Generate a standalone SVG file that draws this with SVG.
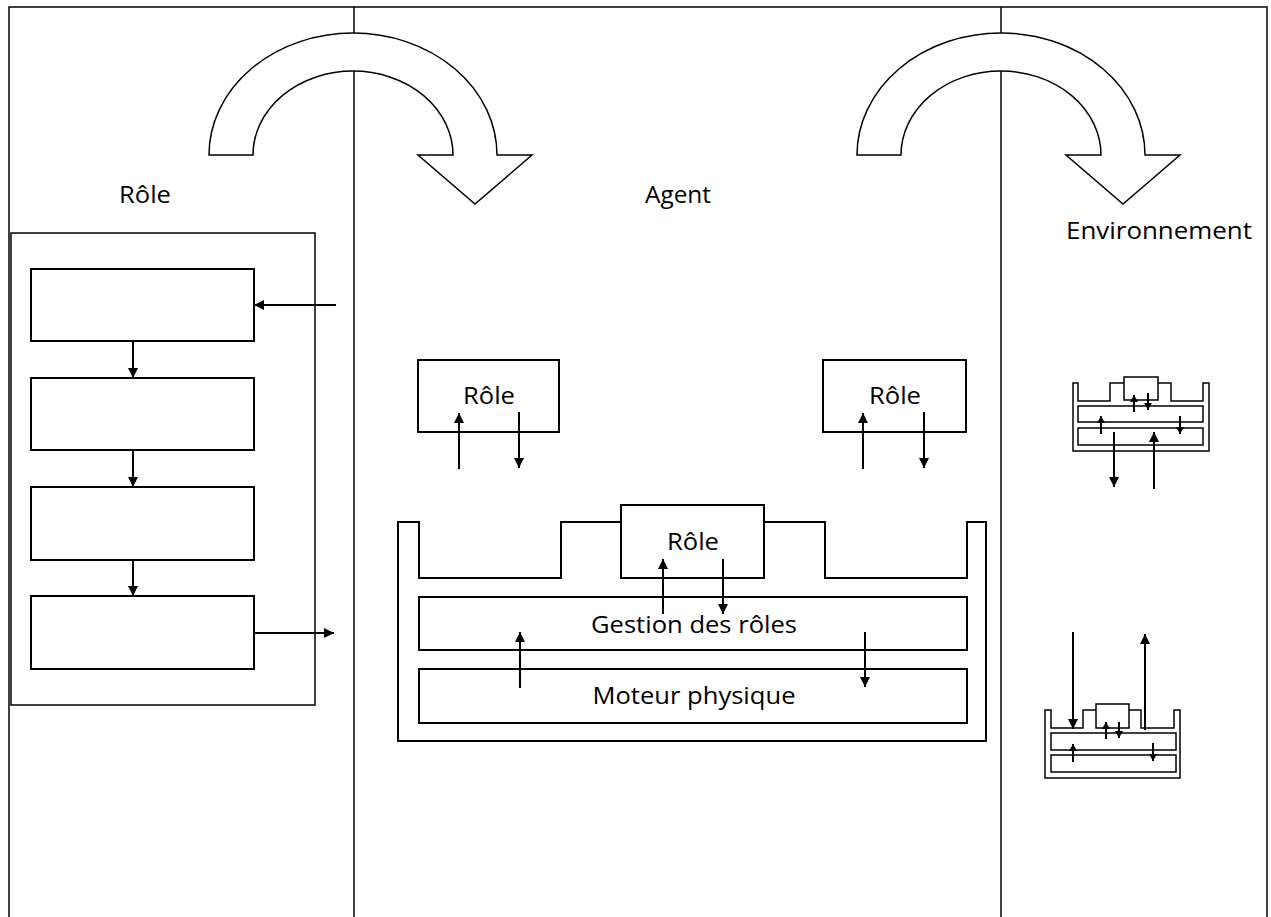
<svg xmlns="http://www.w3.org/2000/svg" width="1271" height="917" viewBox="0 0 1271 917">
  <defs>
    <style>
      .frame { fill: none; stroke: #000; stroke-width: 1.5; }
      .box { fill: #fff; stroke: #000; stroke-width: 2; }
      .sbox { fill: #fff; stroke: #000; stroke-width: 1.5; }
      .curve { fill: #fff; stroke: #000; stroke-width: 1.5; stroke-linejoin: miter; }
      .arr { fill: none; stroke: #000; stroke-width: 2; marker-end: url(#ah); }
      .sarr { fill: none; stroke: #000; stroke-width: 2; marker-end: url(#as); }
      .lbl { font-family: "Open Sans", "Liberation Sans", sans-serif; font-size: 23px; fill: #000; text-anchor: middle; }
    </style>
    <marker id="ah" markerUnits="userSpaceOnUse" markerWidth="10" markerHeight="10" refX="10" refY="5" orient="auto">
      <path d="M0,0 L10,5 L0,10 Z" fill="#000"/>
    </marker>
    <marker id="as" markerUnits="userSpaceOnUse" markerWidth="7" markerHeight="8" refX="7" refY="4" orient="auto">
      <path d="M0,0 L7,4 L0,8 Z" fill="#000"/>
    </marker>
  </defs>

  <rect width="1271" height="917" fill="#fff"/>

  <!-- frame / columns -->
  <g id="frame">
    <path class="frame" d="M9,917 L9,7 L1267,7 L1267,917"/>
    <line class="frame" x1="354" y1="7" x2="354" y2="917"/>
    <line class="frame" x1="1001" y1="7" x2="1001" y2="917"/>
  </g>

  <!-- curved transition arrows -->
  <g id="curve-role-agent">
    <path class="curve" d="M209,155 A144,122 0 0 1 497,155 L532,155 L475,204 L418,155 L453,155 A100,84 0 0 0 253,155 Z"/>
  </g>
  <g id="curve-agent-env">
    <path class="curve" d="M857,155 A144,122 0 0 1 1145,155 L1180,155 L1123,204 L1066,155 L1101,155 A100,84 0 0 0 901,155 Z"/>
  </g>

  <!-- column titles -->
  <g id="title-role"><text class="lbl" x="145" y="203" textLength="52" lengthAdjust="spacingAndGlyphs">Rôle</text></g>
  <g id="title-agent"><text class="lbl" x="678" y="203" textLength="66" lengthAdjust="spacingAndGlyphs">Agent</text></g>
  <g id="title-env"><text class="lbl" x="1159" y="239" textLength="186" lengthAdjust="spacingAndGlyphs">Environnement</text></g>

  <!-- role column -->
  <g id="role-container">
    <rect class="sbox" x="11" y="233" width="304" height="472"/>
  </g>
  <g id="role-step1"><rect class="box" x="31" y="269" width="223" height="72"/></g>
  <g id="role-step2"><rect class="box" x="31" y="378" width="223" height="72"/></g>
  <g id="role-step3"><rect class="box" x="31" y="487" width="223" height="73"/></g>
  <g id="role-step4"><rect class="box" x="31" y="596" width="223" height="73"/></g>

  <!-- agent column -->
  <g id="agent-role1">
    <rect class="box" x="418" y="360" width="141" height="72"/>
    <text class="lbl" x="489" y="404" textLength="52" lengthAdjust="spacingAndGlyphs">Rôle</text>
  </g>
  <g id="agent-role2">
    <rect class="box" x="823" y="360" width="143" height="72"/>
    <text class="lbl" x="895" y="404" textLength="52" lengthAdjust="spacingAndGlyphs">Rôle</text>
  </g>
  <g id="agent-container">
    <path class="box" d="M398,522 L419,522 L419,578 L561,578 L561,522 L621,522 L764,522 L825,522 L825,578 L967,578 L967,522 L986,522 L986,741 L398,741 Z"/>
  </g>
  <g id="agent-role-active">
    <rect class="box" x="621" y="505" width="143" height="73"/>
    <text class="lbl" x="693" y="550" textLength="52" lengthAdjust="spacingAndGlyphs">Rôle</text>
  </g>
  <g id="agent-gestion">
    <rect class="box" x="419" y="597" width="548" height="53"/>
    <text class="lbl" x="694" y="633" textLength="206" lengthAdjust="spacingAndGlyphs">Gestion des rôles</text>
  </g>
  <g id="agent-moteur">
    <rect class="box" x="419" y="669" width="548" height="54"/>
    <text class="lbl" x="694" y="704" textLength="203" lengthAdjust="spacingAndGlyphs">Moteur physique</text>
  </g>

  <!-- environment icons -->
  <g id="env-agent1">
    <path class="sbox" d="M1073,383 L1078,383 L1078,401 L1110,401 L1110,383 L1124,383 L1158,383 L1171,383 L1171,401 L1203,401 L1203,383 L1209,383 L1209,451 L1073,451 Z"/>
    <rect class="sbox" x="1124" y="377" width="34" height="23"/>
    <rect class="sbox" x="1078" y="406" width="125" height="16"/>
    <rect class="sbox" x="1078" y="428" width="125" height="17"/>
  </g>
  <g id="env-agent2">
    <path class="sbox" d="M1045,710 L1051,710 L1051,728 L1083,728 L1083,710 L1096,710 L1129,710 L1141,710 L1141,728 L1174,728 L1174,710 L1180,710 L1180,778 L1045,778 Z"/>
    <rect class="sbox" x="1096" y="704" width="33" height="24"/>
    <rect class="sbox" x="1051" y="733" width="125" height="17"/>
    <rect class="sbox" x="1051" y="755" width="125" height="17"/>
  </g>

  <!-- connectors -->
  <g id="connectors">
    <!-- role column -->
    <line class="arr" x1="336" y1="305" x2="254" y2="305"/>
    <line class="arr" x1="133" y1="341" x2="133" y2="378"/>
    <line class="arr" x1="133" y1="450" x2="133" y2="487"/>
    <line class="arr" x1="133" y1="560" x2="133" y2="596"/>
    <line class="arr" x1="254" y1="633" x2="334" y2="633"/>
    <!-- agent column -->
    <line class="arr" x1="459" y1="469" x2="459" y2="413"/>
    <line class="arr" x1="519" y1="412" x2="519" y2="468"/>
    <line class="arr" x1="863" y1="469" x2="863" y2="413"/>
    <line class="arr" x1="924" y1="412" x2="924" y2="468"/>
    <line class="arr" x1="663" y1="614" x2="663" y2="559"/>
    <line class="arr" x1="723" y1="559" x2="723" y2="614"/>
    <line class="arr" x1="520" y1="688" x2="520" y2="632"/>
    <line class="arr" x1="865" y1="632" x2="865" y2="687"/>
    <!-- environment icon 1 -->
    <line class="sarr" x1="1134" y1="412" x2="1134" y2="395"/>
    <line class="sarr" x1="1148" y1="393" x2="1148" y2="410"/>
    <line class="sarr" x1="1101" y1="434" x2="1101" y2="416"/>
    <line class="sarr" x1="1180" y1="416" x2="1180" y2="434"/>
    <line class="arr" x1="1114" y1="432" x2="1114" y2="487"/>
    <line class="arr" x1="1154" y1="489" x2="1154" y2="432"/>
    <!-- environment icon 2 -->
    <line class="sarr" x1="1106" y1="739" x2="1106" y2="722"/>
    <line class="sarr" x1="1119" y1="722" x2="1119" y2="738"/>
    <line class="sarr" x1="1073" y1="762" x2="1073" y2="744"/>
    <line class="sarr" x1="1153" y1="743" x2="1153" y2="761"/>
    <line class="arr" x1="1073" y1="632" x2="1073" y2="729"/>
    <line class="arr" x1="1145" y1="730" x2="1145" y2="634"/>
  </g>
</svg>
